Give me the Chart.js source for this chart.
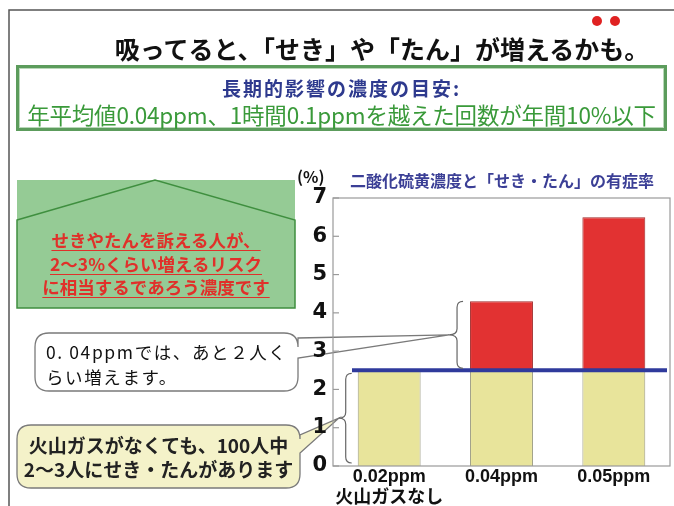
<!DOCTYPE html>
<html lang="ja">
<head>
<meta charset="UTF-8">
<title>二酸化硫黄濃度と「せき・たん」の有症率</title>
<script src="https://cdn.jsdelivr.net/npm/chart.js"></script>
<style>
  body {margin:0; width:674px; height:506px; position:relative; overflow:hidden; background:#fff;
        font-family:"Noto Sans CJK JP", "Noto Sans", sans-serif;}
  #grafico {position:absolute; left:0; top:0;}
  .txt {position:absolute; white-space:nowrap;}
  #titulo {left:0; width:674px; top:30px; text-align:center; padding-left:90px; box-sizing:border-box;
           font-size:25px; font-weight:700; color:#111; letter-spacing:0;}
  #meta {left:16px; top:65px; width:651px; height:66px; box-sizing:border-box; border:3px solid #5c9c5c;
         box-shadow: inset 0 0 0 1px #b9d8b9;}
  #meta1 {left:16px; width:651px; top:74px; text-align:center; font-size:19px; font-weight:700; color:#2e3a8e; letter-spacing:2px;}
  #meta2 {left:16px; width:651px; top:98px; text-align:center; font-size:22.5px; color:#3a9a3a; letter-spacing:-0.2px;}
  #casa {left:17px; width:278px; top:228px; text-align:center; font-size:17.5px; font-weight:700; color:#e0302a;
         line-height:23.5px; text-decoration:underline; text-underline-offset:3px;}
  #burbuja1 {left:46px; top:339px; font-size:17.5px; color:#111; line-height:25px; letter-spacing:1.6px;}
  #burbuja2 {left:17px; width:283px; top:433px; text-align:center; font-size:19px; font-weight:700; color:#222; line-height:24px;}
  #pct {left:297px; top:164px; font-size:16px; font-weight:700; color:#111;}
  #subtit {left:350px; top:168px; font-size:16px; font-weight:700; color:#3b3f96;}
</style>
</head>
<body>
<canvas id="grafico" width="674" height="506"></canvas>

<div class="txt" id="titulo">吸ってると、「せき」や「たん」が増えるかも。</div>
<div class="txt" id="meta"></div>
<div class="txt" id="meta1">長期的影響の濃度の目安:</div>
<div class="txt" id="meta2">年平均値0.04ppm、1時間0.1ppmを越えた回数が年間10%以下</div>
<div class="txt" id="casa">せきやたんを訴える人が、<br>2～3%くらい増えるリスク<br>に相当するであろう濃度です</div>
<div class="txt" id="burbuja1">0. 04ppmでは、あと２人く<br>らい増えます。</div>
<div class="txt" id="burbuja2">火山ガスがなくても、100人中<br>2～3人にせき・たんがあります</div>
<div class="txt" id="pct">(%)</div>
<div class="txt" id="subtit">二酸化硫黄濃度と「せき・たん」の有症率</div>

<script>
// datos
const categorias = [['0.02ppm', '火山ガスなし'], '0.04ppm', '0.05ppm'];
const base = [2.5, 2.5, 2.5];          // sin gas volcánico
const aumento = [0, 1.8, 4.0];         // aumento por SO2
const LINEA_BASE = 2.5;
const Y_MAX = 7;
const ticksY = [0, 1, 2, 3, 4, 5, 6, 7];

function llave(ctx, x, y1, y2, punta) {
  // llave "{" vertical con la punta hacia la izquierda
  const m = (y1 + y2) / 2, r = 6;
  ctx.beginPath();
  ctx.moveTo(x + r, y1);
  ctx.quadraticCurveTo(x, y1, x, y1 + r);
  ctx.lineTo(x, m - r);
  ctx.quadraticCurveTo(x, m, punta, m);
  ctx.quadraticCurveTo(x, m, x, m + r);
  ctx.lineTo(x, y2 - r);
  ctx.quadraticCurveTo(x, y2, x + r, y2);
  ctx.stroke();
  return m;
}

function burbuja(ctx, x, y, w, h, r, ty1, ty2, tx, tyP, relleno) {
  ctx.beginPath();
  ctx.moveTo(x + r, y);
  ctx.lineTo(x + w - r, y);
  ctx.quadraticCurveTo(x + w, y, x + w, y + r);
  ctx.lineTo(x + w, ty1);
  ctx.lineTo(tx, tyP);
  ctx.lineTo(x + w, ty2);
  ctx.lineTo(x + w, y + h - r);
  ctx.quadraticCurveTo(x + w, y + h, x + w - r, y + h);
  ctx.lineTo(x + r, y + h);
  ctx.quadraticCurveTo(x, y + h, x, y + h - r);
  ctx.lineTo(x, y + r);
  ctx.quadraticCurveTo(x, y, x + r, y);
  ctx.closePath();
  ctx.fillStyle = relleno;
  ctx.fill();
  ctx.strokeStyle = '#7a7a7a';
  ctx.lineWidth = 1.3;
  ctx.stroke();
}

const decoracion = {
  id: 'decoracion',
  beforeDraw(chart) {
    const ctx = chart.ctx;
    ctx.save();
    ctx.fillStyle = '#fff';
    ctx.fillRect(0, 0, chart.width, chart.height);
    // marco
    ctx.strokeStyle = '#555';
    ctx.lineWidth = 1.5;
    ctx.beginPath();
    ctx.moveTo(9, 506); ctx.lineTo(9, 10); ctx.lineTo(674, 10);
    ctx.stroke();
    // puntos rojos
    ctx.fillStyle = '#e02222';
    [597, 615].forEach(px => { ctx.beginPath(); ctx.arc(px, 21, 5, 0, Math.PI * 2); ctx.fill(); });
    // casa
    ctx.fillStyle = '#95cb95';
    ctx.fillRect(17, 180, 278, 128);
    ctx.strokeStyle = '#3f8f3f';
    ctx.lineWidth = 1.5;
    ctx.beginPath();
    ctx.moveTo(17, 220); ctx.lineTo(155, 180); ctx.lineTo(295, 220);
    ctx.lineTo(295, 308); ctx.lineTo(17, 308); ctx.closePath();
    ctx.stroke();

    const ys = chart.scales.y;
    const meta = chart.getDatasetMeta(0);
    // puntas de las llaves (para las colas de las burbujas)
    const b2 = meta.data[1], b1 = meta.data[0];
    const ySup1 = ys.getPixelForValue(base[1] + aumento[1]);
    const yBase = ys.getPixelForValue(LINEA_BASE);
    const y0 = ys.getPixelForValue(0);
    const x2 = b2.x - b2.width / 2 - 13;
    const x1 = b1.x - b1.width / 2 - 12;
    burbuja(ctx, 35, 333, 263, 58, 14, 338, 358, x2 - 8, (ySup1 + yBase - 2) / 2, '#fff');
    burbuja(ctx, 17, 425, 283, 63, 14, 435, 453, x1 - 7, (yBase + y0) / 2, '#f4f2c9');
    ctx.restore();
  },
  afterDatasetsDraw(chart) {
    const ctx = chart.ctx, a = chart.chartArea;
    const ys = chart.scales.y;
    const meta = chart.getDatasetMeta(0);
    ctx.save();
    // borde del área
    ctx.strokeStyle = '#9a9a9a';
    ctx.lineWidth = 1.2;
    ctx.strokeRect(a.left, a.top, a.right - a.left, a.bottom - a.top);
    // marcas hacia dentro
    ticksY.forEach(v => {
      const py = ys.getPixelForValue(v);
      ctx.beginPath(); ctx.moveTo(a.left, py); ctx.lineTo(a.left + 6, py); ctx.stroke();
    });
    // línea base azul
    const yBase = ys.getPixelForValue(LINEA_BASE);
    ctx.strokeStyle = '#2f3a9c';
    ctx.lineWidth = 4;
    ctx.beginPath(); ctx.moveTo(a.left + 19, yBase); ctx.lineTo(a.right - 3, yBase); ctx.stroke();
    // llaves
    ctx.strokeStyle = '#666';
    ctx.lineWidth = 1.2;
    const b2 = meta.data[1], b1 = meta.data[0];
    const x2 = b2.x - b2.width / 2 - 13;
    const x1 = b1.x - b1.width / 2 - 12;
    llave(ctx, x2, ys.getPixelForValue(base[1] + aumento[1]), yBase - 2, x2 - 8);
    llave(ctx, x1, yBase + 3, ys.getPixelForValue(0) - 3, x1 - 7);
    ctx.restore();
  }
};

new Chart(document.getElementById('grafico'), {
  type: 'bar',
  data: {
    labels: categorias,
    datasets: [
      { label: 'base', data: base, backgroundColor: '#e8e49b', borderColor: '#9a9a80', borderWidth: 1,
        barPercentage: 0.56, categoryPercentage: 1.0 },
      { label: 'aumento', data: aumento, backgroundColor: '#e23232', borderColor: '#a02a2a', borderWidth: 1,
        barPercentage: 0.56, categoryPercentage: 1.0 }
    ]
  },
  options: {
    responsive: false,
    animation: false,
    devicePixelRatio: 1,
    layout: { padding: { left: 303, top: 198, right: 4, bottom: 0 } },
    plugins: { legend: { display: false }, tooltip: { enabled: false } },
    scales: {
      x: {
        stacked: true,
        grid: { display: false, drawTicks: false },
        border: { display: false },
        ticks: { color: '#111', padding: 1, maxRotation: 0, minRotation: 0, autoSkip: false,
                 font: { family: '"Liberation Sans", "Noto Sans CJK JP"', size: 18, weight: 'bold', lineHeight: 1.15 } },
        afterFit: s => { s.height = 40; }
      },
      y: {
        stacked: true,
        min: 0, max: Y_MAX,
        grid: { display: false, drawTicks: false },
        border: { display: false },
        afterBuildTicks: s => { s.ticks = ticksY.map(v => ({ value: v })); },
        ticks: { color: '#111', padding: 6,
                 font: { family: '"DejaVu Sans", "Liberation Sans"', size: 21, weight: 'bold' } },
        afterFit: s => { s.width = 30; }
      }
    }
  },
  plugins: [decoracion]
});
</script>
</body>
</html>
